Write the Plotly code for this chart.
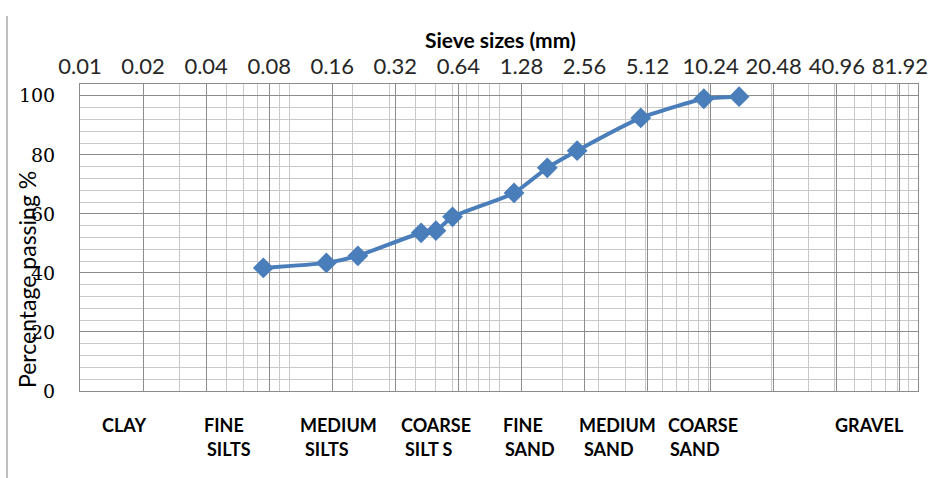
import plotly.graph_objects as go

# ---- data ----
sieve_mm = [0.075, 0.15, 0.212, 0.425, 0.5, 0.6, 1.18, 1.7, 2.36, 4.75, 9.5, 14.0]
passing = [41.7, 43.4, 45.8, 53.6, 54.3, 59.0, 67.1, 75.6, 81.4, 92.5, 99.0, 99.7]

x_tick_vals = [0.01, 0.02, 0.04, 0.08, 0.16, 0.32, 0.64, 1.28, 2.56, 5.12, 10.24, 20.48, 40.96, 81.92]
x_tick_text = ["0.01", "0.02", "0.04", "0.08", "0.16", "0.32", "0.64", "1.28", "2.56", "5.12",
               "10.24", "20.48", "40.96", "81.92"]
y_tick_vals = [0, 20, 40, 60, 80, 100]

minor_x = [n * 10.0 ** k for k in range(-2, 2) for n in range(1, 10)] + [100.0]

soil_line1 = ["CLAY", "FINE", "MEDIUM", "COARSE", "FINE", "MEDIUM", "COARSE", "GRAVEL"]
soil_line2 = ["", "SILTS", "SILTS", "SILT S", "SAND", "SAND", "SAND", ""]

# ---- layout geometry (pixels) ----
W, H = 932, 478
L, R, T, B = 80, 918, 84, 391
pw, ph = R - L, B - T
line1_px = [100, 202, 298, 399, 501, 577, 666, 833]
line2_px = [100, 205, 303, 403, 503, 582, 668, 833]


def px(xp):
    return (xp - L) / pw


def py(yp):
    return (B - yp) / ph


fig = go.Figure()
fig.add_trace(go.Scatter(
    x=sieve_mm, y=passing, mode="lines+markers",
    line=dict(color="#4A7EBB", width=4, shape="spline", smoothing=0.5),
    marker=dict(symbol="diamond", size=16, color="#4A7EBB"),
    showlegend=False,
))

annotations = [
    dict(text="<b>Sieve sizes (mm)</b>", x=px(500), y=py(40), xref="paper", yref="paper",
         showarrow=False, xanchor="center", yanchor="middle",
         font=dict(family="Lato", size=21, color="#000000")),
    dict(text="Percentage passing %", x=px(27), y=py(280), xref="paper", yref="paper",
         showarrow=False, xanchor="center", yanchor="middle", textangle=-90,
         font=dict(family="Lato", size=23, color="#000000")),
]
for t1, t2, x1, x2 in zip(soil_line1, soil_line2, line1_px, line2_px):
    annotations.append(dict(text="<b>%s</b>" % t1, x=px(x1), y=py(425), xref="paper", yref="paper",
                            showarrow=False, xanchor="left", yanchor="middle",
                            font=dict(family="Lato", size=18, color="#000000")))
    if t2:
        annotations.append(dict(text="<b>%s</b>" % t2, x=px(x2), y=py(449), xref="paper", yref="paper",
                                showarrow=False, xanchor="left", yanchor="middle",
                                font=dict(family="Lato", size=18, color="#000000")))

fig.update_layout(
    width=W, height=H,
    margin=dict(l=L, r=W - R, t=T, b=H - B),
    paper_bgcolor="white", plot_bgcolor="white",
    annotations=annotations,
    shapes=[dict(type="line", xref="paper", yref="paper", x0=px(7), x1=px(7), y0=py(16), y1=py(478),
                 line=dict(color="#808080", width=1))],
    xaxis=dict(
        type="log", range=[-2, 2], side="top", automargin=False,
        tickmode="array", tickvals=x_tick_vals, ticktext=x_tick_text,
        tickfont=dict(family="Lato", size=22, color="#262626"),
        ticks="outside", ticklen=0, ticklabelstandoff=0,
        showgrid=True, gridcolor="#8C8C8C", gridwidth=1,
        minor=dict(tickmode="array", tickvals=minor_x, showgrid=True, gridcolor="#C8C8C8", gridwidth=1, ticks=""),
        showline=True, linecolor="#8C8C8C", linewidth=1, mirror=True,
        zeroline=False,
    ),
    yaxis=dict(
        range=[0, 104], tickmode="array", tickvals=y_tick_vals, automargin=False,
        tickfont=dict(family="DejaVu Serif", size=19, color="#000000"),
        ticks="outside", ticklen=0, ticklabelstandoff=20,
        showgrid=True, gridcolor="#8C8C8C", gridwidth=1,
        minor=dict(dtick=4, showgrid=True, gridcolor="#C8C8C8", gridwidth=1, ticks=""),
        showline=True, linecolor="#8C8C8C", linewidth=1, mirror=True,
        zeroline=False,
    ),
)

fig.write_html("out.html")
